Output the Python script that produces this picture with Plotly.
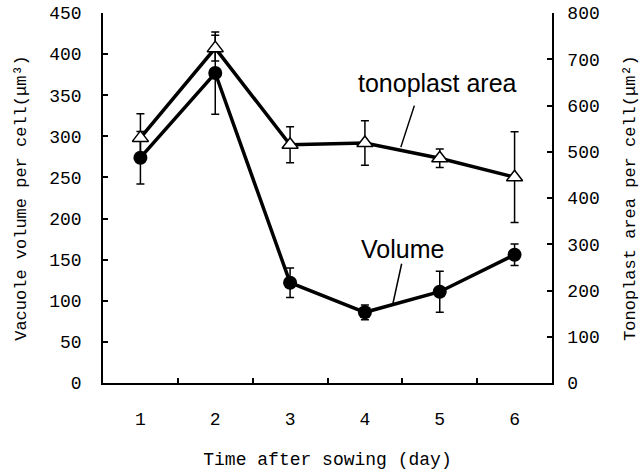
import plotly.graph_objects as go

days = ["1", "2", "3", "4", "5", "6"]
volume = [274, 377, 122, 86, 111, 156]
volume_err = [32, 50, 18, 9, 25, 13]
area = [530, 724, 515, 519, 486, 445]
area_err = [52, 28, 39, 48, 20, 98]

left_ticks = [0, 50, 100, 150, 200, 250, 300, 350, 400, 450]
right_ticks = [0, 100, 200, 300, 400, 500, 600, 700, 800]

mono = "Liberation Mono"
sans = "Liberation Sans, Arial"

fig = go.Figure()
fig.add_trace(go.Scatter(
    x=days, y=volume, mode="lines+markers", name="Volume",
    line=dict(color="black", width=3.5),
    marker=dict(symbol="circle", size=14, color="black"),
    error_y=dict(type="data", array=volume_err, color="black", thickness=1.5, width=4),
    yaxis="y"))
fig.add_trace(go.Scatter(
    x=days, y=area, mode="lines+markers", name="tonoplast area",
    line=dict(color="black", width=3.5),
    marker=dict(symbol="triangle-up", size=14, color="white", line=dict(color="black", width=1.5)),
    error_y=dict(type="data", array=area_err, color="black", thickness=1.5, width=4),
    yaxis="y2"))

fig.update_layout(
    width=643, height=470,
    margin=dict(l=103, r=91, t=13, b=87, autoexpand=False),
    paper_bgcolor="white", plot_bgcolor="white",
    showlegend=False,
    xaxis=dict(type="category", range=[-0.5, 5.5], tickson="boundaries",
               showline=True, linecolor="black", linewidth=1.5,
               ticks="inside", ticklen=5, tickcolor="black", tickwidth=1.5,
               showgrid=False, zeroline=False, automargin=False,
               ticklabelstandoff=19,
               tickfont=dict(family=mono, size=18, color="black"),
               title=dict(text="Time after sowing (day)", standoff=24,
                          font=dict(family=mono, size=18, color="black"))),
    yaxis=dict(range=[0, 450], tickvals=left_ticks,
               showline=True, linecolor="black", linewidth=1.5,
               ticks="inside", ticklen=5, tickcolor="black", tickwidth=1.5,
               showgrid=False, zeroline=False, automargin=False,
               ticklabelstandoff=16, ticklabeloverflow="allow",
               tickfont=dict(family=mono, size=18, color="black"),
               title=dict(text="Vacuole volume per cell(μm³)", standoff=18,
                          font=dict(family=mono, size=17, color="black"))),
    yaxis2=dict(range=[0, 800], tickvals=right_ticks, overlaying="y", side="right",
                showline=True, linecolor="black", linewidth=1.5,
                ticks="inside", ticklen=5, tickcolor="black", tickwidth=1.5,
                showgrid=False, zeroline=False, automargin=False,
                ticklabelstandoff=10, ticklabeloverflow="allow",
                tickfont=dict(family=mono, size=18, color="black"),
                title=dict(text="Tonoplast area per cell(μm²)", standoff=24,
                           font=dict(family=mono, size=17, color="black"))),
)

# pointer lines
fig.add_annotation(x=3.48, y=510, xref="x", yref="y2", text="", showarrow=True,
                   arrowhead=0, arrowwidth=1.5, arrowcolor="black", ax=14, ay=-43)
fig.add_annotation(x=3.375, y=97, xref="x", yref="y", text="", showarrow=True,
                   arrowhead=0, arrowwidth=1.5, arrowcolor="black", ax=9, ay=-41)
# labels
fig.add_annotation(x=0.746, y=0.811, xref="paper", yref="paper", text="tonoplast area",
                   xanchor="center", yanchor="middle",
                   showarrow=False, font=dict(family=sans, size=25, color="black"))
fig.add_annotation(x=0.668, y=0.362, xref="paper", yref="paper", text="Volume",
                   xanchor="center", yanchor="middle",
                   showarrow=False, font=dict(family=sans, size=25, color="black"))

fig.write_html("out.html", config={"displayModeBar": False},
               post_script="document.body.style.margin='0';")
